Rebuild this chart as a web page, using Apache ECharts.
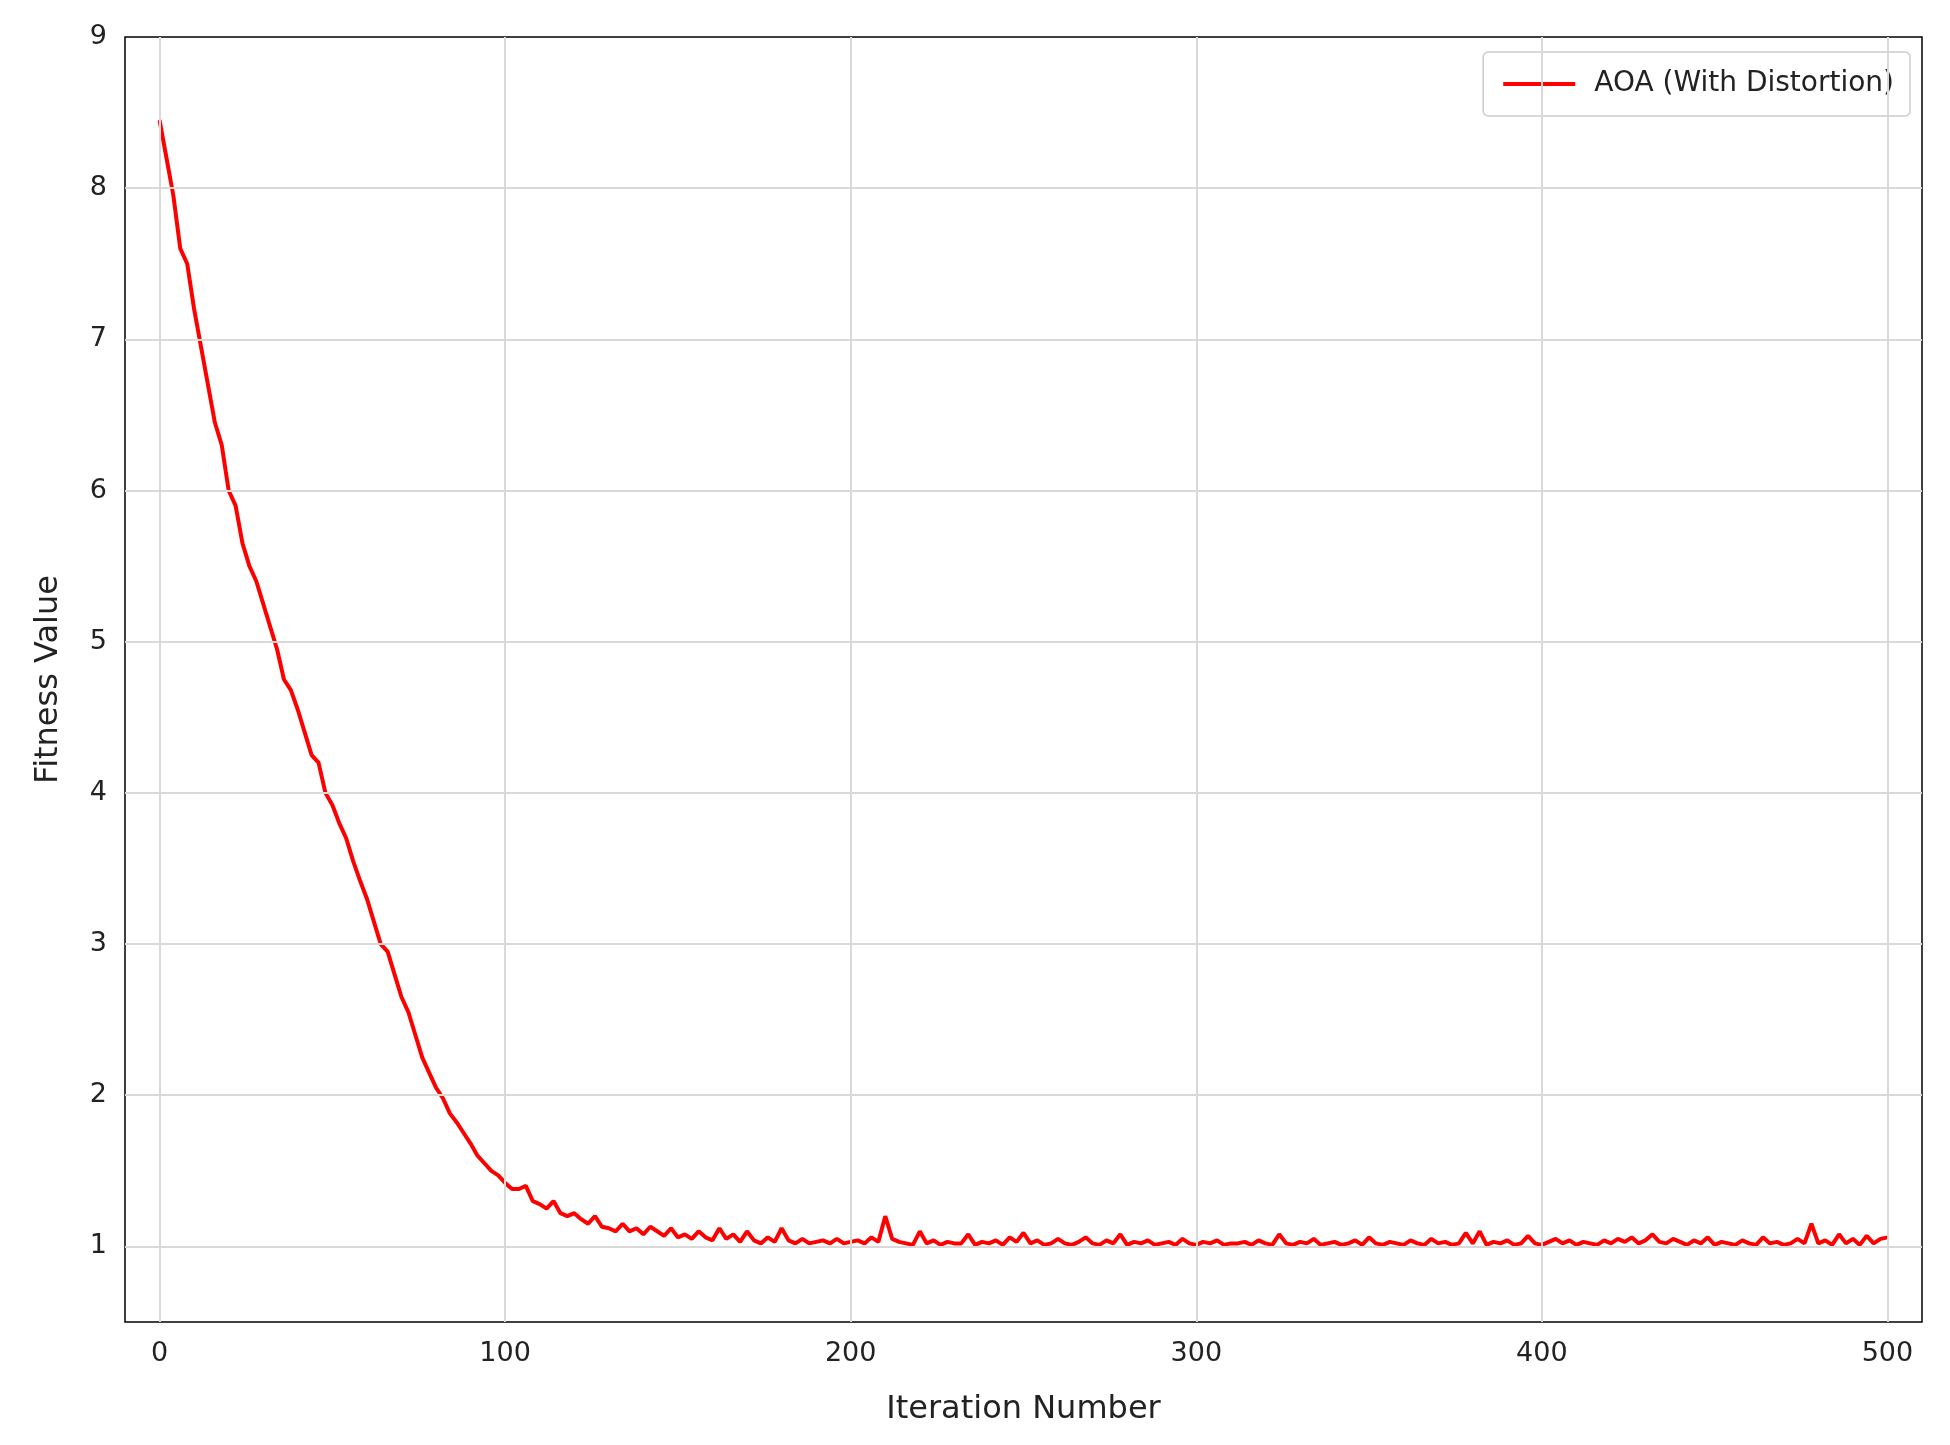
<!DOCTYPE html>
<html>
<head>
<meta charset="utf-8">
<script src="https://cdn.jsdelivr.net/npm/echarts@6/dist/echarts.min.js"></script>
<style>html,body{margin:0;padding:0;background:#fff}#chart{width:1950px;height:1445px}</style>
</head>
<body>
<div id="chart"></div>
<script>
// fitness read every 2 iterations (0, 2, 4 ... 500)
var fitness = [
  8.45, 8.2, 7.95, 7.6, 7.5, 7.2, 6.95, 6.7, 6.45, 6.3, 6.0, 5.9, 5.65, 5.5, 5.4, 5.25, 5.1, 4.95, 4.75, 4.68,
  4.55, 4.4, 4.25, 4.2, 4.0, 3.92, 3.8, 3.7, 3.55, 3.42, 3.3, 3.15, 3.0, 2.95, 2.8, 2.65, 2.55, 2.4, 2.25, 2.15,
  2.05, 1.98, 1.88, 1.82, 1.75, 1.68, 1.6, 1.55, 1.5, 1.47, 1.42, 1.38, 1.38, 1.4, 1.3, 1.28, 1.25, 1.3, 1.22, 1.2,
  1.22, 1.18, 1.15, 1.2, 1.13, 1.12,
  1.1, 1.15, 1.1, 1.12, 1.08, 1.13, 1.1, 1.07, 1.12, 1.06, 1.08, 1.05, 1.1, 1.06, 1.04, 1.12, 1.05, 1.08, 1.03, 1.1,
  1.04, 1.02, 1.06, 1.03, 1.12, 1.04, 1.02, 1.05, 1.02, 1.03, 1.04, 1.02, 1.05, 1.02, 1.03,
  1.04, 1.02, 1.06, 1.03, 1.2, 1.05, 1.03, 1.02, 1.01, 1.1, 1.02, 1.04, 1.01, 1.03, 1.02, 1.02, 1.08, 1.01, 1.03, 1.02,
  1.04, 1.01, 1.06, 1.03, 1.09, 1.02, 1.04, 1.01, 1.02, 1.05, 1.02, 1.01, 1.03, 1.06, 1.02, 1.01, 1.04, 1.02, 1.08, 1.01,
  1.03, 1.02, 1.04, 1.01, 1.02, 1.03, 1.01, 1.05, 1.02, 1.01, 1.03, 1.02, 1.04, 1.01, 1.02, 1.02, 1.03, 1.01, 1.04, 1.02,
  1.01, 1.08, 1.02, 1.01, 1.03, 1.02, 1.05, 1.01, 1.02, 1.03, 1.01, 1.02, 1.04, 1.01, 1.06, 1.02, 1.01, 1.03, 1.02, 1.01,
  1.04, 1.02, 1.01, 1.05, 1.02, 1.03, 1.01, 1.02, 1.09, 1.02, 1.1, 1.01, 1.03, 1.02, 1.04, 1.01, 1.02, 1.07, 1.02, 1.01,
  1.03, 1.05, 1.02, 1.04, 1.01, 1.03, 1.02, 1.01, 1.04, 1.02, 1.05, 1.03, 1.06, 1.02, 1.04, 1.08, 1.03, 1.02, 1.05, 1.03,
  1.01, 1.04, 1.02, 1.06, 1.01, 1.03, 1.02, 1.01, 1.04, 1.02, 1.01, 1.06, 1.02, 1.03, 1.01, 1.02, 1.05, 1.02, 1.15, 1.02,
  1.04, 1.01, 1.08, 1.02, 1.05, 1.01, 1.07, 1.02, 1.05, 1.06
];
var seriesName = 'AOA (With Distortion)';
var xTicks = [0, 100, 200, 300, 400, 500];
var yTicks = [1, 2, 3, 4, 5, 6, 7, 8];

var points = fitness.map(function (v, i) { return [i * 2, v]; });
var font = 'DejaVu Sans';
var gridLines = xTicks.map(function (v) { return { xAxis: v }; })
  .concat(yTicks.map(function (v) { return { yAxis: v }; }));

var chart = echarts.init(document.getElementById('chart'));
chart.setOption({
  animation: false,
  backgroundColor: '#fff',
  textStyle: { fontFamily: font },
  grid: { left: 125, right: 28, top: 37, bottom: 123, show: true, borderColor: '#000', borderWidth: 1.5, z: 5 },
  legend: {
    right: 40, top: 52, data: [seriesName],
    icon: 'rect', itemWidth: 72, itemHeight: 4, itemGap: 10,
    padding: [18, 16, 18, 20],
    borderColor: '#ccc', borderWidth: 1.5, borderRadius: 5,
    textStyle: { fontSize: 28, color: '#222', fontFamily: font, padding: [0, 0, 0, 14] }
  },
  xAxis: {
    type: 'value', min: -10, max: 510, interval: 10,
    name: 'Iteration Number', nameLocation: 'middle', nameGap: 72,
    nameTextStyle: { fontSize: 32, color: '#222', fontFamily: font },
    axisLine: { show: false }, axisTick: { show: false }, splitLine: { show: false },
    axisLabel: {
      fontSize: 27, color: '#222', margin: 18, showMinLabel: true, showMaxLabel: true,
      formatter: function (v) { return v % 100 === 0 && v >= 0 ? String(v) : ''; }
    }
  },
  yAxis: {
    type: 'value', min: 0.5, max: 9, interval: 0.5,
    name: 'Fitness Value', nameLocation: 'middle', nameGap: 60,
    nameTextStyle: { fontSize: 32, color: '#222', fontFamily: font },
    axisLine: { show: false }, axisTick: { show: false }, splitLine: { show: false },
    axisLabel: {
      fontSize: 27, color: '#222', margin: 18,
      formatter: function (v) { return Number.isInteger(v) ? String(v) : ''; }
    }
  },
  series: [{
    name: seriesName, type: 'line', data: points, showSymbol: false, symbol: 'none',
    lineStyle: { color: '#ff0000', width: 4 }, itemStyle: { color: '#ff0000' },
    z: 3,
    markLine: {
      silent: true, symbol: 'none', label: { show: false },
      lineStyle: { color: '#d9d9d9', width: 2, type: 'solid' },
      data: gridLines
    }
  }]
});
</script>
</body>
</html>
